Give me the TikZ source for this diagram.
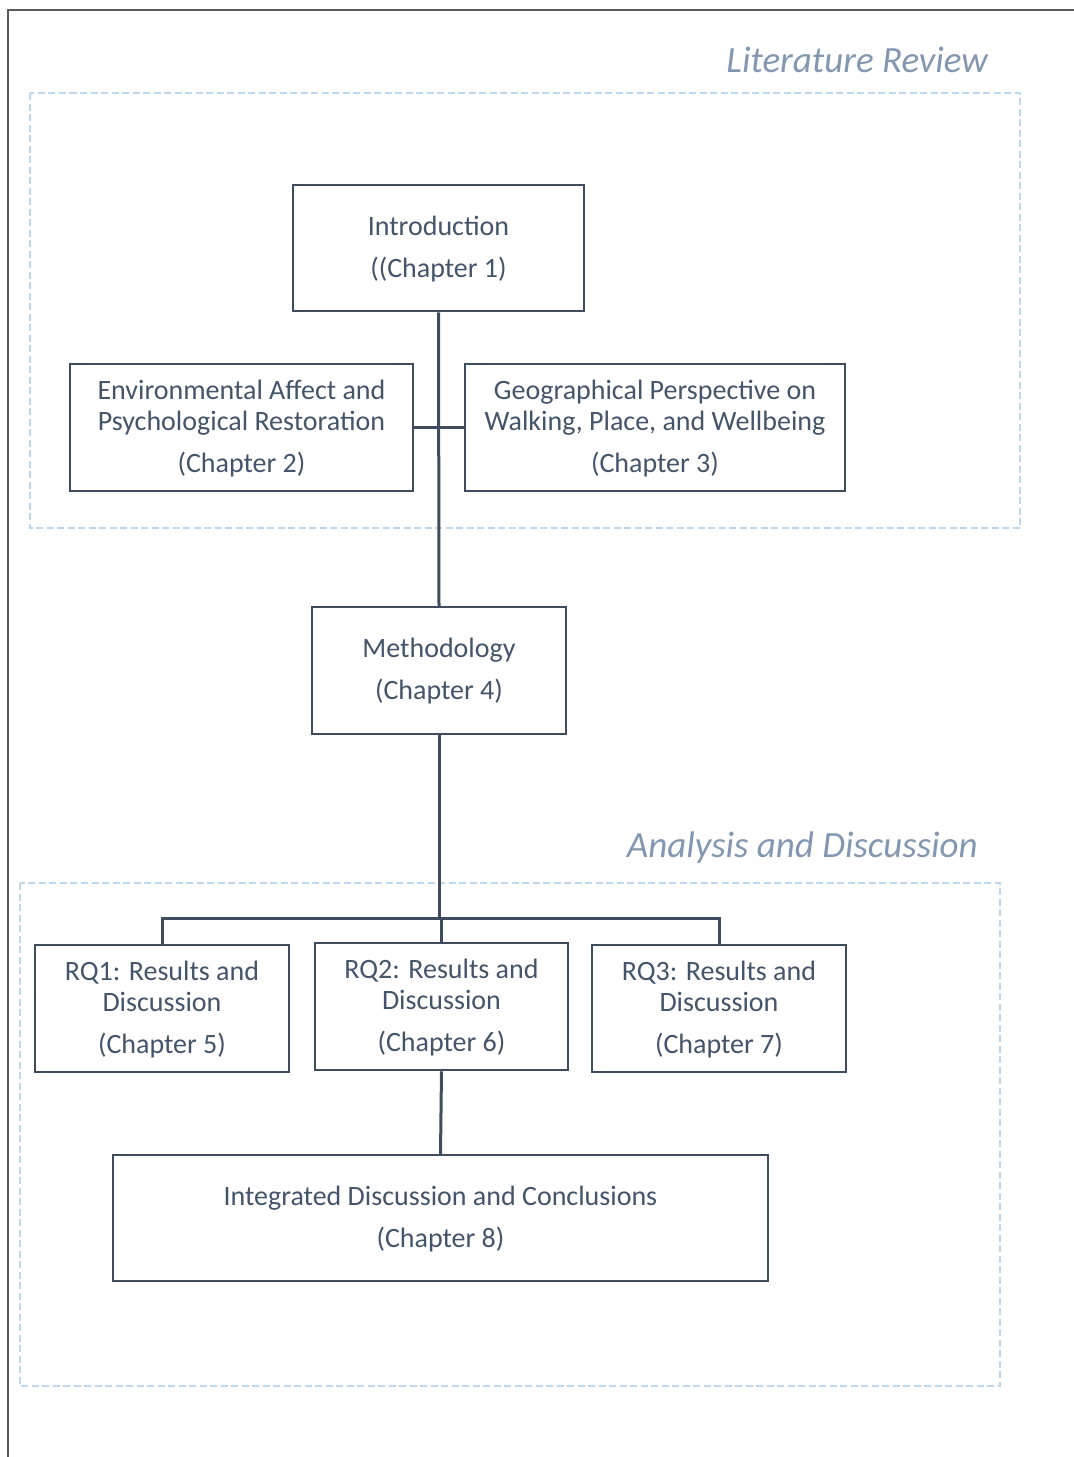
\documentclass[tikz,border=0pt]{standalone}
\usepackage{fontspec}
\setmainfont{Carlito}
\begin{document}
\begin{tikzpicture}[x=1pt,y=-1pt,
  chbox/.style={draw=boxline, line width=2.5pt, inner sep=0pt, align=center,
    text=txt, text depth=3pt, font=\fontsize{28}{31}\selectfont},
  conn/.style={draw=boxline, line width=3pt},
  region/.style={draw=regionblue, line width=2.5pt, dash pattern=on 7pt off 3.5pt},
  title/.style={text=titleblue, font=\fontsize{37}{42}\selectfont\itshape, anchor=east, inner sep=0pt}]
\definecolor{boxline}{HTML}{3E4C5E}
\definecolor{txt}{HTML}{44546A}
\definecolor{regionblue}{HTML}{BDD7EE}
\definecolor{titleblue}{HTML}{8497B0}
\definecolor{pageline}{HTML}{595959}
\useasboundingbox (0,0) rectangle (1074,1457);
\fill[white] (0,0) rectangle (1074,1457);
% page frame
\draw[pageline, line width=2pt] (8,1457) -- (8,10) -- (1074,10);

% section regions
\draw[region] (30,93) rectangle (1020,528);
\node[title] (lrtitle) at (988,60) {Literature Review};
\draw[region] (20,883) rectangle (1000,1386);
\node[title] (adtitle) at (978,848) {Analysis and Discussion};

% chapter boxes
\node[chbox, minimum width=291, minimum height=126] (intro) at (438.5,248)
  {Introduction\\[11pt]((Chapter 1)};
\node[chbox, minimum width=343, minimum height=127] (env) at (241.5,427.5)
  {Environmental Affect and\\Psychological Restoration\\[11pt](Chapter 2)};
\node[chbox, minimum width=380, minimum height=127] (geo) at (655,427.5)
  {Geographical Perspective on\\Walking, Place, and Wellbeing\\[11pt](Chapter 3)};
\node[chbox, minimum width=254, minimum height=127] (meth) at (439,670.5)
  {Methodology\\[11pt](Chapter 4)};
\node[chbox, minimum width=254, minimum height=127] (rq1) at (162,1008.5)
  {RQ1: Results and\\Discussion\\[11pt](Chapter 5)};
\node[chbox, minimum width=253, minimum height=127] (rq2) at (441.5,1006.5)
  {RQ2: Results and\\Discussion\\[11pt](Chapter 6)};
\node[chbox, minimum width=254, minimum height=127] (rq3) at (719,1008.5)
  {RQ3: Results and\\Discussion\\[11pt](Chapter 7)};
\node[chbox, minimum width=655, minimum height=126] (integ) at (440.5,1218)
  {Integrated Discussion and Conclusions\\[11pt](Chapter 8)};

% connectors
\coordinate (bus) at (440,918);
\draw[conn] (intro.south) -- (meth.north);
\draw[conn] (env.east) -- (geo.west);
\draw[conn] (meth.south) -- (meth.south |- bus);
\draw[conn] (rq1.north) |- (bus) -| (rq3.north);
\draw[conn] (rq2.north) -- (rq2.north |- bus);
\draw[conn] (rq2.south) -- (integ.north);
\end{tikzpicture}
\end{document}
